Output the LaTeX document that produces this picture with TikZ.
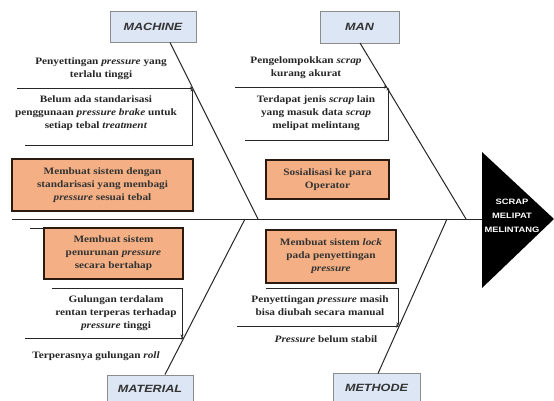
\documentclass[tikz,border=0pt]{standalone}
\usepackage{fontspec}
\setmainfont{Liberation Serif}
\newfontfamily\causefont[FakeStretch=1.15]{Liberation Serif}
\newfontfamily\catfont[FakeStretch=1.2]{Liberation Sans}
\usetikzlibrary{arrows.meta}
\definecolor{catfill}{HTML}{DCE6F4}
\definecolor{catdraw}{HTML}{8C8C8C}
\definecolor{orfill}{HTML}{F4B084}
\definecolor{ordraw}{HTML}{2A1A10}
\definecolor{bonecol}{HTML}{262626}
\begin{document}
\begin{tikzpicture}[x=1pt,y=-1pt,
  bone/.style={draw=bonecol, line width=1pt},
  sub/.style={draw=bonecol, line width=0.9pt},
  tip/.style={-{Stealth[length=3pt,width=3pt]}},
  catbox/.style={draw=catdraw, fill=catfill, line width=0.8pt, inner sep=0pt,
    text=black!80, font=\catfont\bfseries\itshape\fontsize{10.5}{12}\selectfont},
  cause/.style={align=center, inner sep=0pt, text=black!85,
    font=\causefont\bfseries\fontsize{9.8}{13}\selectfont},
  solbox/.style={draw=ordraw, fill=orfill, line width=1.3pt, align=center, inner sep=0pt,
    text=black!80, font=\causefont\bfseries\fontsize{9.8}{13}\selectfont},
  headtxt/.style={align=center, text=white, inner sep=0pt,
    font=\catfont\bfseries\fontsize{7.8}{14}\selectfont}
]
\useasboundingbox (0,0) rectangle (554,401);
\fill[white] (0,0) rectangle (554,401);

% head
\fill[black] (482,152) -- (554,219) -- (482,288) -- cycle;
\node[headtxt] (head) at (512,216) {SCRAP\\MELIPAT\\MELINTANG};
\coordinate (headl) at (482,219);

% spine
\coordinate (spl) at (12,219);
\draw[bone] (spl) -- (headl);

% category boxes
\node[catbox, minimum width=86pt, minimum height=31pt] (mach) at (153,27) {MACHINE};
\node[catbox, minimum width=79pt, minimum height=32pt] (man) at (359.5,27) {MAN};
\node[catbox, minimum width=86pt, minimum height=28pt] (mat) at (150,389) {MATERIAL};
\node[catbox, minimum width=87pt, minimum height=29pt] (meth) at (376.5,388) {METHODE};

% main bones
\coordinate (mbtop) at (170,42.5);
\coordinate (mbend) at (258,219);
\draw[bone] (mbtop) -- (mbend);
\coordinate (nbtop) at (360,43);
\coordinate (nbend) at (466,219);
\draw[bone] (nbtop) -- (nbend);
\coordinate (tbbot) at (165,374.5);
\coordinate (tbend) at (245,219);
\draw[bone] (tbbot) -- (tbend);
\coordinate (hbbot) at (378,373.5);
\coordinate (hbend) at (447,219);
\draw[bone] (hbbot) -- (hbend);

% ---- MACHINE
\coordinate (m1s) at (17,88);
\coordinate (m1e) at (193,88);
\draw[sub,tip] (m1s) -- (m1e);
\coordinate (m2s) at (25,145);
\coordinate (m2c) at (192,145);
\draw[sub,tip] (m2s) -- (m2c) -- (192,88.5);
\node[cause] (mc1) at (101,69) {Penyettingan \textit{pressure} yang\\terlalu tinggi};
\node[cause] (mc2) at (96,113) {Belum ada standarisasi\\penggunaan \textit{pressure brake} untuk\\setiap tebal \textit{treatment}};
\node[solbox, minimum width=181pt, minimum height=52pt] (ms) at (102.5,185) {Membuat sistem dengan\\standarisasi yang membagi\\\textit{pressure} sesuai tebal};

% ---- MAN
\coordinate (n1s) at (235,87);
\coordinate (n1e) at (387,87);
\draw[sub,tip] (n1s) -- (n1e);
\coordinate (n2s) at (245,140);
\coordinate (n2c) at (388,140);
\draw[sub,tip] (n2s) -- (n2c) -- (388,87.5);
\node[cause] (nc1) at (306,68) {Pengelompokkan \textit{scrap}\\kurang akurat};
\node[cause] (nc2) at (316,113) {Terdapat jenis \textit{scrap} lain\\yang masuk data \textit{scrap}\\melipat melintang};
\node[solbox, minimum width=123pt, minimum height=39pt] (ns) at (327.5,179.5) {Sosialisasi ke para\\Operator};

% ---- MATERIAL
\coordinate (t0s) at (30,228);
\coordinate (t0e) at (183,228);
\draw[sub] (t0s) -- (t0e);
\node[solbox, minimum width=139pt, minimum height=51pt] (ts) at (113.5,253.5) {Membuat sistem\\penurunan \textit{pressure}\\secara bertahap};
\coordinate (t1s) at (52,288);
\coordinate (t1c) at (182,288);
\coordinate (t2s) at (25,338);
\coordinate (t2e) at (184,338);
\draw[sub,tip] (t1s) -- (t1c) -- (182,337.5);
\draw[sub,tip] (t2s) -- (t2e);
\node[cause] (tc1) at (116,313) {Gulungan terdalam\\rentan terperas terhadap\\\textit{pressure} tinggi};
\node[cause] (tc2) at (96,356) {Terperasnya gulungan \textit{roll}};

% ---- METHODE
\node[solbox, minimum width=130pt, minimum height=53pt] (hs) at (331,256.5) {Membuat sistem \textit{lock}\\pada penyettingan\\\textit{pressure}};
\coordinate (h1s) at (266,288);
\coordinate (h1c) at (398,288);
\coordinate (h2s) at (237,326);
\coordinate (h2e) at (399,326);
\draw[sub,tip] (h1s) -- (h1c) -- (398,325.5);
\draw[sub,tip] (h2s) -- (h2e);
\node[cause] (hc1) at (320,306) {Penyettingan \textit{pressure} masih\\bisa diubah secara manual};
\node[cause] (hc2) at (326,339) {\textit{Pressure} belum stabil};
\end{tikzpicture}
\end{document}
